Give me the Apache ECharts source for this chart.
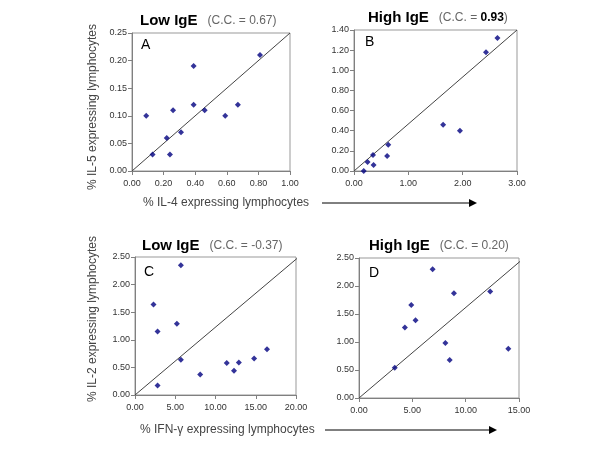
<!DOCTYPE html>
<html><head><meta charset="utf-8">
<script src="https://cdn.jsdelivr.net/npm/echarts@6/dist/echarts.min.js"></script>
<style>html,body{margin:0;padding:0;background:#fff}#c{width:600px;height:450px}</style>
</head><body><div id="c"></div>
<script>
// Panel A: Low IgE, IL-4 (x) vs IL-5 (y)
const aX = [0.09,0.13,0.22,0.24,0.26,0.31,0.39,0.39,0.46,0.59,0.67,0.81];
const aY = [0.10,0.03,0.06,0.03,0.11,0.07,0.19,0.12,0.11,0.10,0.12,0.21];
// Panel B: High IgE, IL-4 vs IL-5
const bX = [0.18,0.25,0.35,0.36,0.61,0.63,1.64,1.95,2.43,2.64];
const bY = [0.00,0.09,0.16,0.06,0.15,0.26,0.46,0.40,1.18,1.32];
// Panel C: Low IgE, IFN-g vs IL-2
const cX = [2.3,5.7,2.8,5.2,5.7,2.8,8.1,11.4,12.3,12.9,14.8,16.4];
const cY = [1.64,2.35,1.15,1.29,0.64,0.17,0.37,0.58,0.44,0.59,0.66,0.83];
// Panel D: High IgE, IFN-g vs IL-2
const dX = [3.35,4.3,4.9,5.3,6.9,8.1,8.5,8.9,12.3,14.0];
const dY = [0.54,1.26,1.66,1.39,2.30,0.98,0.68,1.87,1.90,0.88];
// reference lines
const aLine = [[0,0],[1,0.25]];
const bLine = [[0,0],[3,1.4]];
const cLine = [[0,0],[20.58,2.53]];
const dLine = [[0,0],[15.35,2.48]];
// titles
const groups = ['Low IgE','High IgE','Low IgE','High IgE'];
const ccVals = ['0.67','0.93','-0.37','0.20'];
const letters = ['A','B','C','D'];
const yTitles = ['% IL-5 expressing lymphocytes','% IL-2 expressing lymphocytes'];
const xTitles = ['% IL-4 expressing lymphocytes','% IFN-\u03b3 expressing lymphocytes'];

const FONT = '"Liberation Sans", Arial, sans-serif';
const zip = (x,y)=>x.map((v,i)=>[v,y[i]]);
const grids = [
  {left:132, top:33, width:158, height:138},
  {left:354, top:30, width:163, height:141},
  {left:135, top:257, width:161, height:138},
  {left:359, top:258, width:160, height:140}
];
const xr = [[0,1,0.2],[0,3,1],[0,20,5],[0,15,5]];
const yr = [[0,0.25,0.05],[0,1.4,0.2],[0,2.5,0.5],[0,2.5,0.5]];
const axisCommon = {
  axisLine:{show:true,onZero:false,lineStyle:{color:'#808080',width:1}},
  axisTick:{show:true,inside:false,length:4,lineStyle:{color:'#808080'}},
  splitLine:{show:false},
  axisLabel:{color:'#333',fontSize:9,fontFamily:FONT,formatter:v=>v.toFixed(2)}
};
const xAxis = xr.map((r,i)=>Object.assign({type:'value',gridIndex:i,min:r[0],max:r[1],interval:r[2]},axisCommon,{axisLabel:Object.assign({},axisCommon.axisLabel,{margin:8})}));
const yAxis = yr.map((r,i)=>Object.assign({type:'value',gridIndex:i,min:r[0],max:r[1],interval:r[2]},axisCommon,{axisLabel:Object.assign({},axisCommon.axisLabel,{margin:5})}));
const pts = [zip(aX,aY),zip(bX,bY),zip(cX,cY),zip(dX,dY)];
const lines = [aLine,bLine,cLine,dLine];
const series = [];
pts.forEach((p,i)=>{
  series.push({type:'line',xAxisIndex:i,yAxisIndex:i,data:lines[i],showSymbol:false,symbol:'none',clip:false,
    lineStyle:{color:'#444',width:1},silent:true,z:1});
  series.push({type:'scatter',xAxisIndex:i,yAxisIndex:i,data:p,symbol:'diamond',symbolSize:6,
    itemStyle:{color:'#000080'},z:3});
});
const titlePos = [[140,23],[368,20],[142,248],[369,248]];
const letterPos = [[141,45],[365,42],[144,272],[369,273]];
const graphic = [];
titlePos.forEach((p,i)=>{
  const bold = i===1;
  graphic.push({type:'text',left:p[0],top:p[1]-10,style:{
    text:'{g|'+groups[i]+'}{s|   (C.C. = }'+(bold?'{b|'+ccVals[i]+'}':'{s|'+ccVals[i]+'}')+'{s|)}',
    rich:{
      g:{fontSize:15,fontWeight:'bold',fill:'#000',fontFamily:FONT},
      s:{fontSize:12,fill:'#666',fontFamily:FONT},
      b:{fontSize:12,fontWeight:'bold',fill:'#000',fontFamily:FONT}
    }}});
});
letterPos.forEach((p,i)=>{
  graphic.push({type:'text',x:p[0],y:p[1],style:{text:letters[i],fontSize:14,fill:'#000',fontFamily:FONT,verticalAlign:'middle'}});
});
[[93,107],[93,319]].forEach((p,i)=>{
  graphic.push({type:'text',x:p[0],y:p[1],rotation:Math.PI/2,style:{text:yTitles[i],fontSize:12,fill:'#444',fontFamily:FONT,align:'center',verticalAlign:'middle'}});
});
[[143,203,322,477],[140,430,325,497]].forEach((p,i)=>{
  graphic.push({type:'text',x:p[0],y:p[1],style:{text:xTitles[i],fontSize:12,fill:'#444',fontFamily:FONT,verticalAlign:'middle'}});
  graphic.push({type:'line',shape:{x1:p[2],y1:p[1],x2:p[3]-6,y2:p[1]},style:{stroke:'#000',lineWidth:1}});
  graphic.push({type:'polygon',shape:{points:[[p[3]-8,p[1]-4],[p[3],p[1]],[p[3]-8,p[1]+4]]},style:{fill:'#000'}});
});
const chart = echarts.init(document.getElementById('c'));
chart.setOption({
  animation:false,
  backgroundColor:'#fff',
  grid:grids.map(g=>Object.assign({show:true,borderColor:'#999',borderWidth:1,backgroundColor:'transparent'},g)),
  xAxis, yAxis, series, graphic
});
</script></body></html>
